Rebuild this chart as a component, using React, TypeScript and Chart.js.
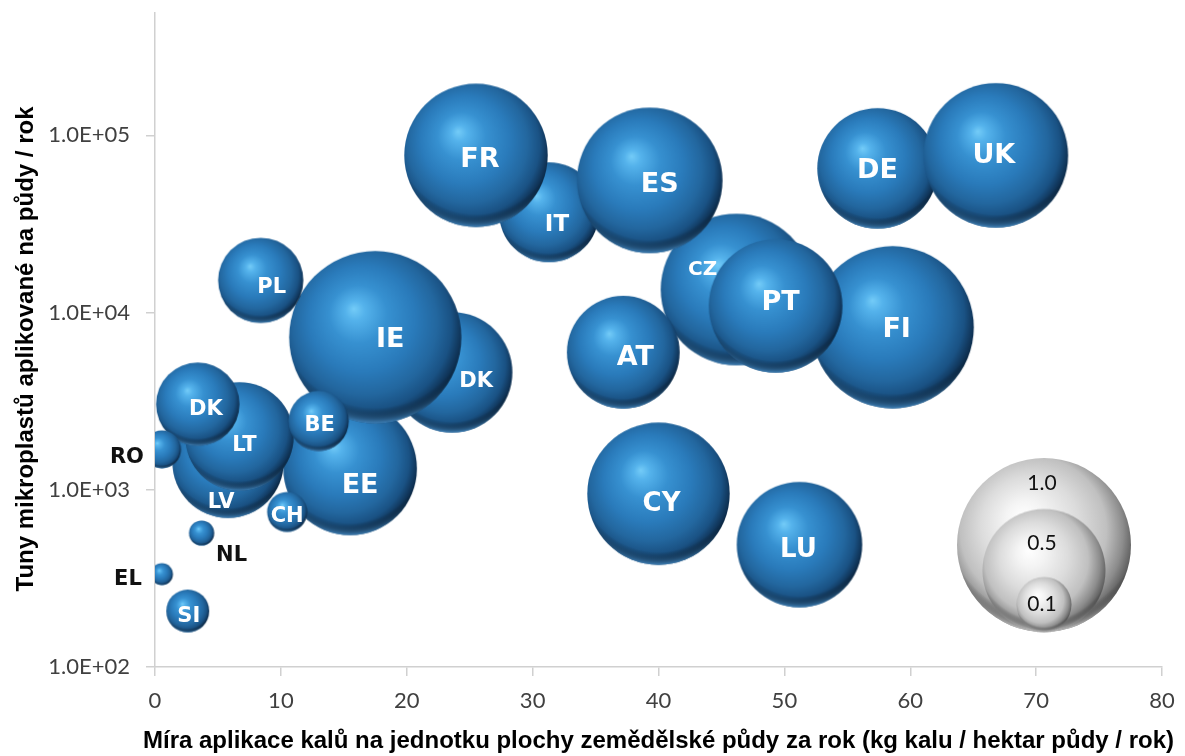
import React, { useEffect, useRef } from 'react';
import { Chart, registerables } from 'chart.js';

Chart.register(...registerables);

// ---------- data (back-to-front drawing order) ----------
const countries = ['IT', 'CZ', 'FI', 'EE', 'LV', 'DK', 'LT', 'IE', 'FR', 'ES', 'PT', 'DE', 'UK', 'DK', 'BE', 'CH', 'AT', 'PL', 'CY', 'LU', 'RO', 'NL', 'EL', 'SI'];
// kg sludge / ha agricultural land / year
const sludgeRate = [31.3, 46.2, 58.6, 15.5, 5.8, 23.6, 6.7, 17.5, 25.5, 39.3, 49.3, 57.4, 66.8, 3.4, 13.0, 10.5, 37.2, 8.4, 40.0, 51.2, 0.55, 3.7, 0.55, 2.6];
// tonnes of microplastics applied to soils / year
const microplastics = [36800, 13500, 8260, 1320, 1430, 4600, 2000, 7260, 77100, 55700, 10900, 65100, 77100, 3040, 2440, 750, 5970, 15200, 950, 490, 1690, 570, 334, 207];
// bubble size (same unit as the size legend)
const bubbleSize = [0.33, 0.76, 0.87, 0.59, 0.41, 0.48, 0.39, 0.98, 0.68, 0.70, 0.59, 0.48, 0.69, 0.23, 0.12, 0.053, 0.42, 0.24, 0.67, 0.52, 0.048, 0.021, 0.016, 0.061];

const xTickMin = 0;
const xTickMax = 80;
const xTickStep = 10;
const yTickValues = [100, 1000, 10000, 100000];
const yTickLabels = ['1.0E+02', '1.0E+03', '1.0E+04', '1.0E+05'];
const yAxisMax = 490000;

const legendValues = [1.0, 0.5, 0.1];
const legendLabels = ['1.0', '0.5', '0.1'];

const xTitle = 'Míra aplikace kalů na jednotku plochy zemědělské půdy za rok (kg kalu / hektar půdy / rok)';
const yTitle = 'Tuny mikroplastů aplikované na půdy / rok';

// ---------- styling ----------
const SIZE_UNIT_RADIUS = 87; // px radius for size 1.0
const radiusFor = (s: number) => SIZE_UNIT_RADIUS * Math.sqrt(s);
const TITLE_FONT = 'bold 24px "Liberation Sans"';

// label nudges (px), font size, colour for each bubble label (same order as data)
const LABEL_STYLE: { dx: number; dy: number; size: number; color: string }[] = [
  { dx: 8, dy: 10, size: 23, color: '#fff' }, // IT
  { dx: -34, dy: -22, size: 20, color: '#fff' }, // CZ
  { dx: 4, dy: 0, size: 27, color: '#fff' }, // FI
  { dx: 10, dy: 15, size: 27, color: '#fff' }, // EE
  { dx: -7, dy: 38, size: 21, color: '#fff' }, // LV
  { dx: 24, dy: 7, size: 21, color: '#fff' }, // DK
  { dx: 5, dy: 7, size: 21, color: '#fff' }, // LT
  { dx: 15, dy: 0, size: 27, color: '#fff' }, // IE
  { dx: 4, dy: 2, size: 27, color: '#fff' }, // FR
  { dx: 10, dy: 2, size: 27, color: '#fff' }, // ES
  { dx: 5, dy: -6, size: 27, color: '#fff' }, // PT
  { dx: 0, dy: 0, size: 27, color: '#fff' }, // DE
  { dx: -2, dy: -2, size: 27, color: '#fff' }, // UK
  { dx: 8, dy: 3, size: 21, color: '#fff' }, // DK
  { dx: 1, dy: 2, size: 21, color: '#fff' }, // BE
  { dx: 0, dy: 2, size: 21, color: '#fff' }, // CH
  { dx: 12, dy: 3, size: 27, color: '#fff' }, // AT
  { dx: 11, dy: 5, size: 21, color: '#fff' }, // PL
  { dx: 3, dy: 8, size: 26, color: '#fff' }, // CY
  { dx: -1, dy: 3, size: 26, color: '#fff' }, // LU
  { dx: -35, dy: 6, size: 21, color: '#111' }, // RO
  { dx: 30, dy: 20, size: 21, color: '#111' }, // NL
  { dx: -34, dy: 3, size: 21, color: '#111' }, // EL
  { dx: 1, dy: 3, size: 21, color: '#fff' }, // SI
];

type Palette = { stops: [number, string][]; rim: string };
const BLUE: Palette = {
  stops: [
    [0, '#74ccf8'],
    [0.1, '#55b3ec'],
    [0.3, '#3791d1'],
    [0.55, '#2a7bbb'],
    [0.75, '#23679f'],
    [0.88, '#1a5284'],
    [0.96, '#11375c'],
    [1, '#0b2a48'],
  ],
  rim: 'rgba(80,160,225,0.75)',
};
const GREY: Palette = {
  stops: [
    [0, '#ffffff'],
    [0.2, '#f4f4f4'],
    [0.5, '#dcdcdc'],
    [0.75, '#c0c0c0'],
    [0.9, '#8c8c8c'],
    [1, '#5a5a5a'],
  ],
  rim: 'rgba(235,235,235,0.8)',
};

const sphereCache = new Map<string, HTMLCanvasElement>();
function sphere(r: number, pal: Palette, key: string): HTMLCanvasElement {
  const k = key + ':' + r.toFixed(1);
  const hit = sphereCache.get(k);
  if (hit) return hit;
  const pad = 2;
  const size = Math.ceil(2 * r + 2 * pad);
  const c = document.createElement('canvas');
  c.width = size;
  c.height = size;
  const g = c.getContext('2d')!;
  const cx = size / 2;
  const cy = size / 2;
  g.save();
  g.beginPath();
  g.arc(cx, cy, r, 0, Math.PI * 2);
  g.closePath();
  g.clip();
  const base = g.createRadialGradient(cx - 0.25 * r, cy - 0.33 * r, 0, cx - 0.08 * r, cy - 0.12 * r, 1.12 * r);
  pal.stops.forEach(([o, col]) => base.addColorStop(o, col));
  g.fillStyle = base;
  g.fillRect(0, 0, size, size);
  const rim = g.createRadialGradient(cx, cy - 0.3 * r, 0, cx, cy - 0.3 * r, 1.3 * r);
  rim.addColorStop(0, 'rgba(0,0,0,0)');
  rim.addColorStop(0.86, 'rgba(0,0,0,0)');
  rim.addColorStop(1, pal.rim);
  g.fillStyle = rim;
  g.fillRect(0, 0, size, size);
  g.restore();
  sphereCache.set(k, c);
  return c;
}

const annotatePlugin = {
  id: 'annotate',
  afterDatasetsDraw(chart: any) {
    const ctx: CanvasRenderingContext2D = chart.ctx;
    const area = chart.chartArea;
    // size legend
    const cx = area.right - 118;
    const bottom = area.bottom - 35;
    const radii = legendValues.map(radiusFor);
    ctx.save();
    radii.forEach((r) => {
      const img = sphere(r, GREY, 'g');
      ctx.drawImage(img, cx - img.width / 2, bottom - r - img.height / 2);
    });
    ctx.fillStyle = '#111';
    ctx.font = '21px Lato';
    ctx.textAlign = 'center';
    ctx.textBaseline = 'middle';
    legendLabels.forEach((t, i) => {
      const topI = bottom - 2 * radii[i];
      let y: number;
      if (i < radii.length - 1) y = (topI + (bottom - 2 * radii[i + 1])) / 2;
      else y = bottom - radii[i];
      ctx.fillText(t, cx - 2, y);
    });
    // bubble labels
    const meta = chart.getDatasetMeta(0);
    meta.data.forEach((el: any, i: number) => {
      const st = LABEL_STYLE[i];
      ctx.font = `bold ${st.size}px "DejaVu Sans"`;
      ctx.fillStyle = st.color;
      ctx.textAlign = 'center';
      ctx.textBaseline = 'alphabetic';
      ctx.fillText(countries[i], el.x + st.dx, el.y + st.dy + 0.365 * st.size);
    });
    // axis titles
    ctx.fillStyle = '#000';
    ctx.font = TITLE_FONT;
    ctx.textAlign = 'center';
    ctx.textBaseline = 'middle';
    ctx.fillText(xTitle, (area.left + area.right) / 2, chart.height - 15);
    ctx.save();
    ctx.translate(26, (area.top + area.bottom) / 2 + 9);
    ctx.rotate(-Math.PI / 2);
    ctx.fillText(yTitle, 0, 0);
    ctx.restore();
    ctx.restore();
  },
};

export default function App() {
  const ref = useRef<HTMLCanvasElement>(null);
  useEffect(() => {
    if (!ref.current) return;
    Chart.defaults.font.family = 'Lato';
    const data = countries.map((c, i) => ({ x: sludgeRate[i], y: microplastics[i], r: radiusFor(bubbleSize[i]), s: bubbleSize[i] }));
    const chart = new Chart(ref.current, {
      type: 'bubble',
      data: {
        datasets: [
          {
            label: 'countries',
            data,
            clip: 0,
            borderWidth: 0,
            backgroundColor: 'rgba(0,0,0,0)',
            pointStyle: (ctx: any) => {
              if (!ctx.raw) return 'circle';
              return sphere(ctx.raw.r, BLUE, 'b');
            },
          } as any,
        ],
      },
      options: {
        animation: false,
        responsive: false,
        events: [],
        layout: { autoPadding: false, padding: { left: 0, right: 23, top: 13, bottom: 0 } },
        plugins: { legend: { display: false }, tooltip: { enabled: false }, title: { display: false } },
        scales: {
          x: {
            type: 'linear',
            min: xTickMin,
            max: xTickMax,
            afterFit: (s: any) => {
              s.height = 89;
              s.paddingLeft = 0;
              s.paddingRight = 0;
            },
            ticks: { stepSize: xTickStep, color: '#404040', font: { family: 'Lato', size: 22 }, padding: 12, maxRotation: 0 },
            grid: { display: true, drawOnChartArea: false, drawTicks: true, tickLength: 9, color: '#d0d0d0', lineWidth: 1.5 },
            border: { display: true, color: '#d0d0d0', width: 1.5 },
            title: { display: false },
          },
          y: {
            type: 'logarithmic',
            min: yTickValues[0],
            max: yAxisMax,
            afterFit: (s: any) => {
              s.width = 155;
              s.paddingTop = 0;
              s.paddingBottom = 0;
            },
            afterBuildTicks: (s: any) => {
              s.ticks = yTickValues.map((v) => ({ value: v }));
            },
            ticks: {
              color: '#404040',
              font: { family: 'Lato', size: 22 },
              padding: 16,
              callback: (v: any) => {
                const i = yTickValues.indexOf(Number(v));
                return i >= 0 ? yTickLabels[i] : '';
              },
            },
            grid: { display: true, drawOnChartArea: false, drawTicks: true, tickLength: 9, color: '#d0d0d0', lineWidth: 1.5 },
            border: { display: true, color: '#d0d0d0', width: 1.5 },
            title: { display: false },
          },
        },
      },
      plugins: [annotatePlugin],
    } as any);
    return () => chart.destroy();
  }, []);
  return (
    <div style={{ position: 'fixed', left: 0, top: 0, width: 1185, height: 756, background: '#fff' }}>
      <canvas ref={ref} width={1185} height={756} style={{ display: 'block' }} />
    </div>
  );
}
